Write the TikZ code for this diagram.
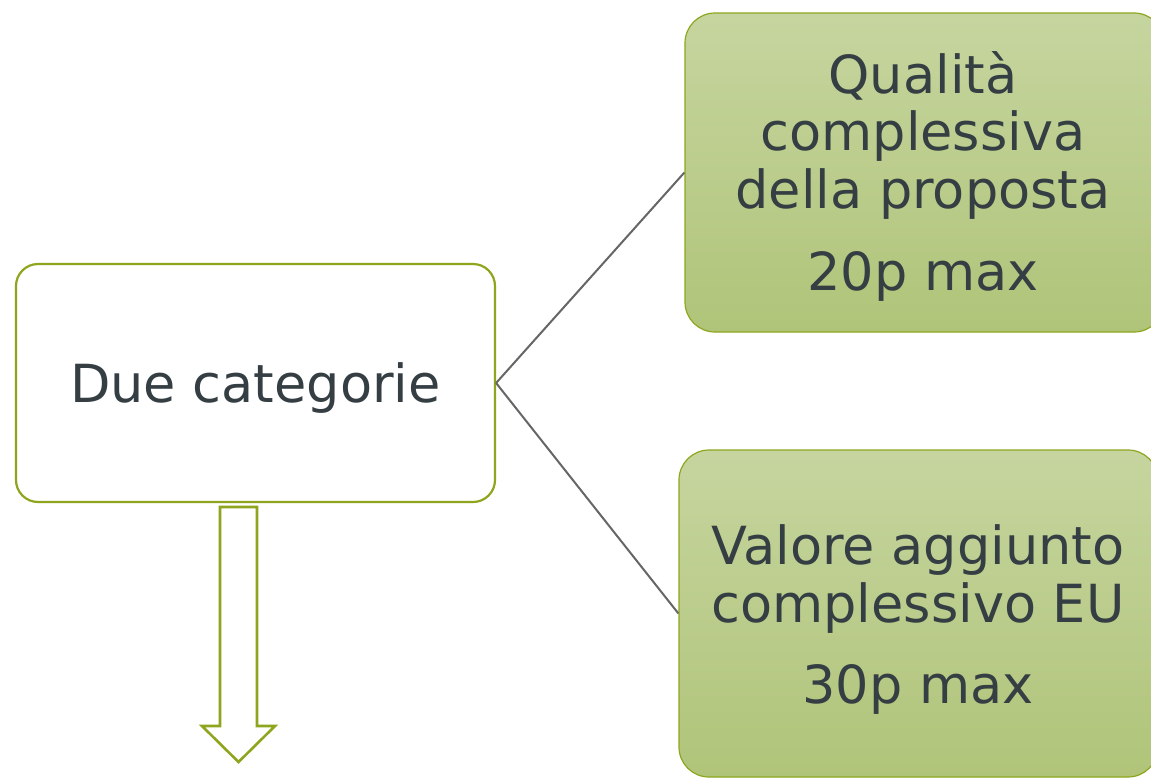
\documentclass[tikz,border=0pt]{standalone}
\usepackage{fontspec}
\setmainfont{DejaVu Sans}
\definecolor{olive}{HTML}{8DA61E}
\definecolor{txt}{HTML}{353F43}
\definecolor{gtop}{HTML}{C6D59F}
\definecolor{gbot}{HTML}{B0C479}
\definecolor{conn}{HTML}{666666}
\tikzset{
  greenbox/.style={draw=olive, line width=1.2pt, rounded corners=30pt, top color=gtop, bottom color=gbot, inner sep=0pt},
  whitebox/.style={draw=olive, line width=2.2pt, rounded corners=22pt, fill=white, inner sep=0pt},
  txtline/.style={anchor=base, text=txt, font=\fontsize{52.5}{58}\selectfont, inner sep=0pt},
  connector/.style={draw=conn, line width=2pt}
}
\begin{document}
\begin{tikzpicture}[x=1pt,y=-1pt]
\useasboundingbox (0,0) rectangle (1151,779);
\clip (0,0) rectangle (1151,779);
\fill[white] (0,0) rectangle (1151,779);
% boxes
\node[greenbox, minimum width=479pt, minimum height=319pt] (top) at (924.5,172.5) {};
\node[greenbox, minimum width=479pt, minimum height=327pt] (bot) at (918.5,613.5) {};
\node[whitebox, minimum width=479pt, minimum height=238pt] (due) at (255.5,383) {};
% connectors
\draw[connector] (due.east) -- (top.west);
\draw[connector] (due.east) -- (bot.west);
% texts
\node[txtline] (t1) at (923,93) {Qualità};
\node[txtline] (t2) at (923,150) {complessiva};
\node[txtline] (t3) at (923,208) {della proposta};
\node[txtline] (t4) at (923,290) {20p max};
\node[txtline] (b1) at (918,564) {Valore aggiunto};
\node[txtline] (b2) at (918,622) {complessivo EU};
\node[txtline] (b3) at (918,703) {30p max};
\node[txtline] (d1) at (255.5,402) {Due categorie};
% arrow
\draw[olive, line width=2.6pt, line join=miter, fill=white]
  (220,507) -- (257,507) -- (257,726) -- (275,726) -- (238.5,762) -- (202,726) -- (220,726) -- cycle;
\end{tikzpicture}
\end{document}
